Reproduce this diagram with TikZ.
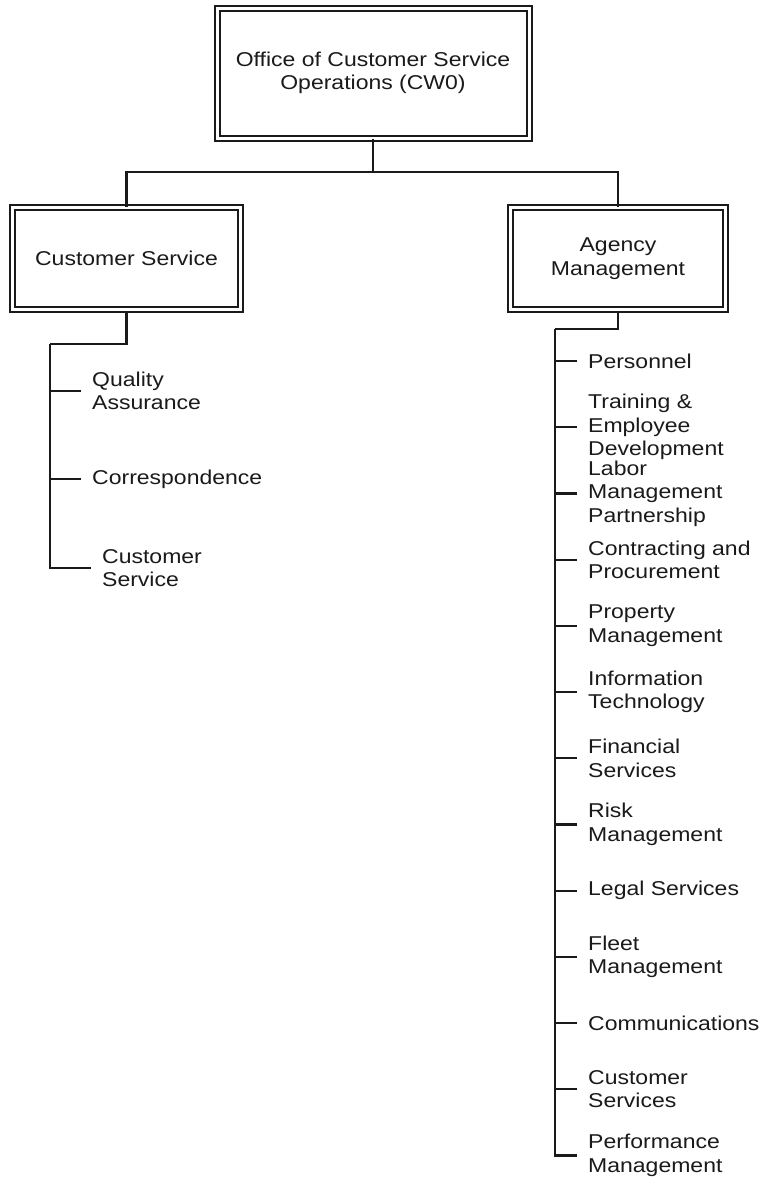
\documentclass[tikz,border=0pt]{standalone}
\usepackage{fontspec}
\setmainfont{Liberation Sans}[FakeStretch=1.15]
\definecolor{ink}{HTML}{1A1A1A}
\begin{document}
\begin{tikzpicture}[x=1pt,y=-1pt,
  unitbox/.style={draw=ink, line width=2pt, double=white, double distance=3pt,
    align=center, text=ink, font=\fontsize{20}{23.5}\selectfont, inner sep=0pt},
  item/.style={anchor=west, align=left, inner sep=0pt, text=ink,
    font=\fontsize{20}{23.5}\selectfont},
  link/.style={draw=ink, line width=2.2pt},
  tick/.style={link, shorten >=11pt}]
\useasboundingbox[fill=white] (0,0) rectangle (762,1178);

% organisational units
\node[unitbox, minimum width=312pt, minimum height=130pt] (cwo) at (373,73)
  {Office of Customer Service\\Operations (CW0)};
\node[unitbox, minimum width=228pt, minimum height=102pt] (csv) at (126.5,258.5)
  {Customer Service};
\node[unitbox, minimum width=215pt, minimum height=102pt] (agm) at (618,258.5)
  {Agency\\Management};

% top-level connectors
\coordinate (bus) at (373,172);
\draw[link] (cwo.south) -- (bus);
\draw[link] (bus) -| (csv.north);
\draw[link] (bus) -| (agm.north);

% Customer Service sections
\coordinate (lsp) at (50,344);
\node[item] (qa)  at (92,391)  {Quality\\Assurance};
\node[item] (cor) at (92,479)  {Correspondence};
\node[item] (lcs) at (102,568) {Customer\\Service};
\draw[link] (csv.south) |- (lsp);
\draw[tick] (lsp) |- (lcs.west);
\draw[tick] (qa.west -| lsp) -- (qa.west);
\draw[tick] (cor.west -| lsp) -- (cor.west);

% Agency Management sections
\coordinate (rsp) at (555,329);
\node[item] (per) at (588,361.0)  {Personnel};
\node[item] (trn) at (588,427.2)  {Training \&\\Employee\\Development};
\node[item] (lab) at (588,493.4)  {Labor\\Management\\Partnership};
\node[item] (con) at (588,559.6)  {Contracting and\\Procurement};
\node[item] (prp) at (588,625.8)  {Property\\Management};
\node[item] (itc) at (588,692.0)  {Information\\Technology};
\node[item] (fin) at (588,758.2)  {Financial\\Services};
\node[item] (rsk) at (588,824.4)  {Risk\\Management};
\node[item] (leg) at (588,890.6)  {Legal Services};
\node[item] (flt) at (588,956.8)  {Fleet\\Management};
\node[item] (com) at (588,1023.0) {Communications};
\node[item] (cus) at (588,1089.2) {Customer\\Services};
\node[item] (pfm) at (588,1155.4) {Performance\\Management};
\draw[link] (agm.south) |- (rsp);
\draw[tick] (rsp) |- (pfm.west);
\foreach \n in {per,trn,lab,con,prp,itc,fin,rsk,leg,flt,com,cus}
  \draw[tick] (\n.west -| rsp) -- (\n.west);
\end{tikzpicture}
\end{document}
